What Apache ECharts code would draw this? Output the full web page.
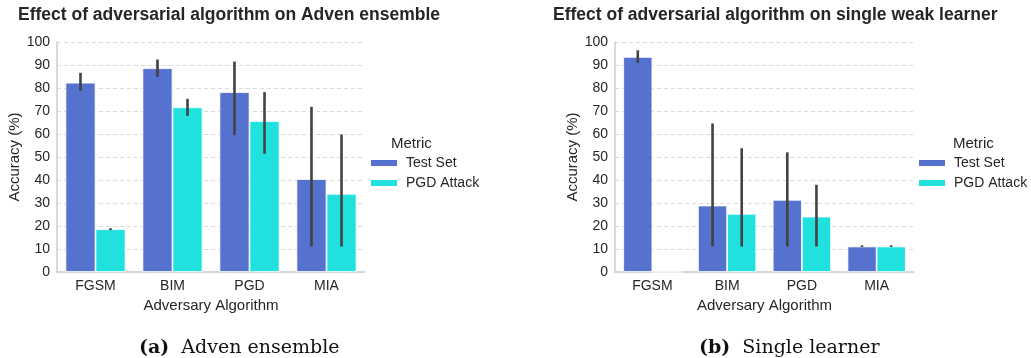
<!DOCTYPE html>
<html>
<head>
<meta charset="utf-8">
<script src="https://cdn.jsdelivr.net/npm/echarts@6/dist/echarts.min.js"></script>
<style>
html,body{margin:0;padding:0;background:#fff;}
#c{width:1031px;height:358px;}
</style>
</head>
<body>
<div id="c"></div>
<script>
const categories = ['FGSM', 'BIM', 'PGD', 'MIA'];
const yTicks = [0, 10, 20, 30, 40, 50, 60, 70, 80, 90, 100];
// Adven ensemble
const ensTest = [82.3, 88.6, 78.2, 40.4];
const ensTestLo = [78.8, 84.8, 59.5, 11.1];
const ensTestHi = [86.6, 92.4, 91.5, 71.8];
const ensPgd = [18.6, 71.6, 65.6, 34.0];
const ensPgdLo = [18.2, 67.9, 51.4, 11.1];
const ensPgdHi = [19.0, 75.3, 78.2, 59.8];
// Single weak learner
const sglTest = [93.5, 28.9, 31.4, 11.1];
const sglTestLo = [90.9, 11.1, 11.1, 10.9];
const sglTestHi = [96.4, 64.6, 52.0, 11.6];
const sglPgd = [0, 25.3, 24.1, 11.1];
const sglPgdLo = [null, 11.1, 11.1, 10.9];
const sglPgdHi = [null, 53.8, 37.9, 11.6];

const C_TEST = '#5572cf';
const C_PGD = '#21e1df';
const TXT = '#262626';
const FONT = 'Liberation Sans, Arial, sans-serif';

function errData(lo, hi, which) {
  const out = [];
  for (let i = 0; i < categories.length; i++) {
    if (lo[i] == null) continue;
    out.push([i, lo[i], hi[i], which]);
  }
  return out;
}
function renderErr(params, api) {
  const c = api.value(0);
  const p1 = api.coord([c, api.value(1)]);
  const p2 = api.coord([c, api.value(2)]);
  const bw = api.size([1, 0])[0] * 0.39;
  const off = api.value(3) === 0 ? -bw / 2 : bw / 2;
  return {
    type: 'line',
    shape: {x1: p1[0] + off, y1: p1[1], x2: p2[0] + off, y2: p2[1]},
    style: {stroke: '#424242', lineWidth: 2.6}
  };
}
function xAx(gi) {
  return {
    type: 'category', gridIndex: gi, data: categories,
    name: 'Adversary Algorithm', nameLocation: 'middle', nameGap: 19,
    nameTextStyle: {color: TXT, fontSize: 15, fontFamily: FONT},
    axisLine: {lineStyle: {color: '#cccccc', width: 1.5}},
    axisTick: {show: false},
    axisLabel: {color: TXT, fontSize: 14, fontFamily: FONT, margin: 7}
  };
}
function yAx(gi) {
  return {
    type: 'value', gridIndex: gi, min: 0, max: 100, interval: 10,
    name: 'Accuracy (%)', nameLocation: 'middle', nameGap: 31,
    nameTextStyle: {color: TXT, fontSize: 15, fontFamily: FONT},
    axisLine: {show: true, lineStyle: {color: '#cccccc', width: 1.5}},
    axisTick: {show: false},
    axisLabel: {color: TXT, fontSize: 14, fontFamily: FONT, margin: 7,
      formatter: v => (yTicks.indexOf(v) >= 0 ? String(v) : '')},
    splitLine: {show: true, lineStyle: {color: '#d9d9d9', type: [4, 3], width: 1}}
  };
}
function bar(name, data, color, gi) {
  return {
    type: 'bar', name: name, data: data, xAxisIndex: gi, yAxisIndex: gi,
    barGap: '0%', barCategoryGap: '22%',
    itemStyle: {color: color, borderColor: '#ffffff', borderWidth: 0.8},
    emphasis: {disabled: true}, animation: false
  };
}
function err(lo, hi, which, gi) {
  return {
    type: 'custom', xAxisIndex: gi, yAxisIndex: gi, renderItem: renderErr,
    data: errData(lo, hi, which), encode: {x: 0, y: [1, 2]}, z: 5,
    silent: true, animation: false
  };
}
function legend(left) {
  return {
    data: ['Test Set', 'PGD Attack'], orient: 'vertical', left: left, top: 151,
    itemWidth: 28, itemHeight: 8, itemGap: 6, selectedMode: false,
    icon: 'rect',
    textStyle: {color: TXT, fontSize: 14, lineHeight: 14, fontFamily: FONT, padding: [0, 0, 0, 3]}
  };
}

const chart = echarts.init(document.getElementById('c'), null, {renderer: 'canvas'});
chart.setOption({
  animation: false,
  backgroundColor: '#ffffff',
  title: [
    {text: 'Effect of adversarial algorithm on Adven ensemble', left: 13, top: 1,
      textStyle: {color: TXT, fontSize: 17.5, fontWeight: 'bold', fontFamily: FONT}},
    {text: 'Effect of adversarial algorithm on single weak learner', left: 548, top: 1,
      textStyle: {color: TXT, fontSize: 17.5, fontWeight: 'bold', fontFamily: FONT}},
    {text: 'Metric', left: 386, top: 131,
      textStyle: {color: TXT, fontSize: 15, fontWeight: 'normal', fontFamily: FONT}},
    {text: 'Metric', left: 948, top: 131,
      textStyle: {color: TXT, fontSize: 15, fontWeight: 'normal', fontFamily: FONT}},
    {text: '{b|(a)}  Adven ensemble', left: 134, top: 334,
      textStyle: {color: '#111', fontSize: 19, fontWeight: 'normal', fontFamily: 'DejaVu Serif, serif',
        rich: {b: {fontWeight: 'bold', fontSize: 19, fontFamily: 'DejaVu Serif, serif', color: '#111'}}}},
    {text: '{b|(b)}  Single learner', left: 694, top: 334,
      textStyle: {color: '#111', fontSize: 19, fontWeight: 'normal', fontFamily: 'DejaVu Serif, serif',
        rich: {b: {fontWeight: 'bold', fontSize: 19, fontFamily: 'DejaVu Serif, serif', color: '#111'}}}}
  ],
  legend: [legend(364), legend(912)],
  grid: [
    {left: 57, right: 666, top: 42, bottom: 86},
    {left: 615, right: 117, top: 42, bottom: 86}
  ],
  xAxis: [xAx(0), xAx(1)],
  yAxis: [yAx(0), yAx(1)],
  series: [
    bar('Test Set', ensTest, C_TEST, 0),
    bar('PGD Attack', ensPgd, C_PGD, 0),
    bar('Test Set', sglTest, C_TEST, 1),
    bar('PGD Attack', sglPgd, C_PGD, 1),
    err(ensTestLo, ensTestHi, 0, 0),
    err(ensPgdLo, ensPgdHi, 1, 0),
    err(sglTestLo, sglTestHi, 0, 1),
    err(sglPgdLo, sglPgdHi, 1, 1)
  ]
});
</script>
</body>
</html>
